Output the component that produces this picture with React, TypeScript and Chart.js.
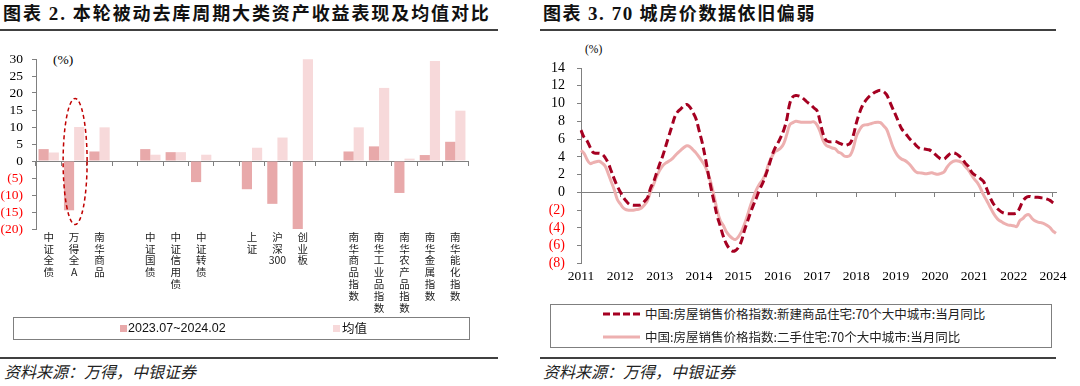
import React, { useEffect, useRef } from 'react';
import { Chart, registerables } from 'chart.js';

Chart.register(...registerables);

// ---------- Left chart data ----------
const assetNames = [
  '中证全债', '万得全A', '南华商品', '',
  '中证国债', '中证信用债', '中证转债', '',
  '上证', '沪深300', '创业板', '',
  '南华商品指数', '南华工业品指数', '南华农产品指数', '南华金属指数', '南华能化指数',
];
const cycleReturns = [3.5, -14.5, 2.8, null, 3.5, 2.6, -6.2, null, -8.3, -12.6, -20, null, 2.8, 4.3, -9.4, 1.75, 5.65];
const meanReturns = [2.5, 10.0, 9.9, null, 1.85, 2.6, 1.85, null, 3.9, 6.9, 29.9, null, 9.9, 21.5, 0.7, 29.4, 14.8];
const leftLegend = ['2023.07~2024.02', '均值'];
const highlightIndex = 1;
const highlightRange = [-18.7, 18.4];

// ---------- Right chart data (monthly, 2011-01 .. 2024-02) ----------
const newHomeYoY = [
  7.0, 6.2, 5.8, 5.1, 4.5, 4.4, 4.4, 4.3, 3.9, 3.3, 2.4, 1.5,
  0.7, 0.05, -0.55, -1.0, -1.35, -1.45, -1.45, -1.45, -1.35, -1.0, -0.6, 0.5,
  1.2, 2.2, 3.2, 4.1, 5.2, 6.3, 7.4, 8.5, 9.1, 9.4, 9.75, 9.9,
  9.6, 9.0, 8.3, 7.0, 5.7, 4.05, 2.2, 0.45, -1.1, -2.65, -3.75, -4.9,
  -5.75, -6.3, -6.6, -6.55, -6.2, -5.5, -4.3, -3.3, -2.3, -1.4, -0.6, 0.3,
  1.0, 1.9, 2.9, 4.0, 4.9, 5.5, 6.2, 7.0, 8.2, 10.0, 10.75, 10.9,
  10.85, 10.7, 10.4, 10.1, 9.85, 9.5, 9.2, 8.0, 6.6, 5.85, 5.7, 5.7,
  5.75, 5.6, 5.45, 5.3, 5.35, 5.55, 6.4, 7.8, 8.9, 9.75, 10.3, 10.7,
  11.0, 11.25, 11.4, 11.5, 11.35, 11.0, 10.25, 9.45, 8.7, 7.9, 7.15, 6.75,
  6.3, 5.9, 5.6, 5.2, 4.95, 4.9, 4.85, 4.8, 4.6, 4.3, 4.0, 3.75,
  3.75, 4.05, 4.35, 4.45, 4.35, 4.1, 3.8, 3.3, 2.95, 2.35, 2.0, 1.8,
  1.55, 1.25, 0.5, -0.4, -1.1, -1.6, -1.95, -2.2, -2.35, -2.4, -2.4, -2.4,
  -2.3, -1.75, -1.0, -0.6, -0.45, -0.5, -0.55, -0.55, -0.6, -0.65, -0.75, -0.9,
  -1.15, -1.35,
];
const secondHandYoY = [
  4.75, 4.4, 3.7, 3.25, 3.35, 3.45, 3.5, 3.3, 2.95, 2.1, 1.2, 0.3,
  -0.8, -1.3, -1.75, -1.95, -2.0, -2.0, -1.95, -1.9, -1.75, -1.4, -0.9, 0.1,
  0.9, 1.8, 2.5, 3.0, 3.3, 3.5, 3.75, 4.1, 4.45, 4.75, 5.05, 5.25,
  5.15, 4.8, 4.45, 4.0, 3.5, 2.95, 2.1, 1.0, -0.45, -2.0, -3.15, -3.7,
  -4.4, -4.85, -5.15, -5.3, -5.0, -4.45, -3.6, -2.6, -1.5, -0.55, 0.3, 0.95,
  1.4, 2.1, 3.2, 3.95, 4.55, 4.75, 5.0, 5.5, 6.5, 7.6, 7.85, 8.0,
  7.95, 7.9, 7.9, 7.9, 7.9, 7.95, 7.6, 6.85, 5.85, 5.3, 5.15, 5.0,
  4.9, 4.55, 4.4, 4.1, 4.05, 4.2, 5.0, 6.3, 7.0, 7.5, 7.6, 7.65,
  7.75, 7.85, 7.9, 7.85, 7.5, 7.1, 6.2, 5.2, 4.5, 4.0, 3.75, 3.6,
  3.35, 3.0, 2.55, 2.25, 2.2, 2.15, 2.1, 2.15, 2.2, 2.1, 2.05, 2.15,
  2.3, 2.85, 3.25, 3.5, 3.55, 3.5, 3.35, 2.9, 2.55, 2.0, 1.5, 1.1,
  0.5, -0.25, -0.85, -1.5, -2.15, -2.7, -3.1, -3.3, -3.5, -3.65, -3.7, -3.75,
  -3.85, -3.2, -2.95, -2.6, -2.5, -2.9, -3.2, -3.35, -3.4, -3.5, -3.7, -3.95,
  -4.35, -4.6,
];
const rightLegend = [
  '中国:房屋销售价格指数:新建商品住宅:70个大中城市:当月同比',
  '中国:房屋销售价格指数:二手住宅:70个大中城市:当月同比',
];
const startYear = 2011;
const monthLabels: string[] = newHomeYoY.map((_, i) => {
  const y = startYear + Math.floor(i / 12);
  const m = (i % 12) + 1;
  return `${y}-${m < 10 ? '0' + m : m}`;
});
const labelEvery = 13;

// ---------- styling ----------
const AXIS = '#808080';
const DARK_BAR = '#E8A9AA';
const LIGHT_BAR = '#F7D9DA';
const NEW_HOME = '#A50021';
const SECOND_HAND = '#EDB0B0';
const SERIF = '"Liberation Serif", "Times New Roman", serif';
const CJK = '"Noto Sans CJK SC", "Noto Sans", sans-serif';

const fmtNeg = (v: number | string) => {
  const n = Number(v);
  return n < 0 ? `(${Math.abs(n)})` : `${n}`;
};
const negColor = (ctx: any) => (ctx.tick && ctx.tick.value < 0 ? '#FF0000' : '#000000');
const vertical = (s: string) => (s ? s.match(/\d+|./g) || [''] : ['']);

const ellipsePlugin = {
  id: 'highlightEllipse',
  afterDatasetsDraw(chart: any) {
    const { ctx, scales } = chart;
    const x = scales.x, y = scales.y;
    const cx = x.getPixelForValue(highlightIndex) + 1;
    const top = y.getPixelForValue(highlightRange[1]);
    const bottom = y.getPixelForValue(highlightRange[0]);
    ctx.save();
    ctx.beginPath();
    ctx.setLineDash([4, 3]);
    ctx.strokeStyle = '#C00000';
    ctx.lineWidth = 1.5;
    ctx.ellipse(cx, (top + bottom) / 2, 12, (bottom - top) / 2, 0, 0, Math.PI * 2);
    ctx.stroke();
    ctx.restore();
  },
};

function LeftChart() {
  const ref = useRef<HTMLCanvasElement>(null);
  useEffect(() => {
    const chart = new Chart(ref.current as HTMLCanvasElement, {
      type: 'bar',
      data: {
        labels: assetNames,
        datasets: [
          { label: leftLegend[0], data: cycleReturns as any, backgroundColor: DARK_BAR, categoryPercentage: 0.8, barPercentage: 1.0 },
          { label: leftLegend[1], data: meanReturns as any, backgroundColor: LIGHT_BAR, categoryPercentage: 0.8, barPercentage: 1.0 },
        ],
      },
      options: {
        animation: false,
        responsive: false,
        maintainAspectRatio: false,
        layout: { padding: { top: 19, right: 62, bottom: 0, left: 0 } },
        plugins: { legend: { display: false }, tooltip: { enabled: false } },
        scales: {
          x: {
            type: 'category',
            position: { y: 0 } as any,
            offset: true,
            grid: { display: true, drawOnChartArea: false, offset: true, drawTicks: true, tickLength: 4, color: AXIS },
            border: { display: true, color: AXIS },
            ticks: { display: false },
            afterFit: (s: any) => { s.height = 0; },
          },
          x2: {
            type: 'category',
            labels: assetNames,
            position: 'bottom',
            offset: true,
            grid: { display: false, drawTicks: false },
            border: { display: false },
            ticks: {
              autoSkip: false,
              maxRotation: 0,
              minRotation: 0,
              padding: 2,
              color: '#222222',
              font: { family: CJK, size: 10.5, lineHeight: '11.8px' },
              callback: (_v: any, i: number) => vertical(assetNames[i]),
            },
            afterFit: (s: any) => { s.height = 89; },
          },
          y: {
            min: -20,
            max: 30,
            ticks: { stepSize: 5, autoSkip: false, callback: fmtNeg, color: negColor, padding: 9, font: { family: SERIF, size: 13.5 } },
            grid: { display: true, drawOnChartArea: false, tickLength: 4, color: AXIS },
            border: { display: true, color: AXIS },
            afterFit: (s: any) => { s.width = 36; },
          },
        },
      } as any,
      plugins: [ellipsePlugin],
    });
    return () => chart.destroy();
  }, []);
  return <canvas ref={ref} width={530} height={278} style={{ position: 'absolute', left: 0, top: 40 }} />;
}

function RightChart() {
  const ref = useRef<HTMLCanvasElement>(null);
  useEffect(() => {
    const keepYearTicks = (s: any) => { s.ticks = s.ticks.filter((t: any) => t.value % labelEvery === 0); };
    const chart = new Chart(ref.current as HTMLCanvasElement, {
      type: 'line',
      data: {
        labels: monthLabels,
        datasets: [
          { label: rightLegend[0], data: newHomeYoY, borderColor: NEW_HOME, borderWidth: 3, borderDash: [8, 4], pointRadius: 0, tension: 0.4, fill: false },
          { label: rightLegend[1], data: secondHandYoY, borderColor: SECOND_HAND, borderWidth: 3, pointRadius: 0, tension: 0.4, fill: false },
        ],
      },
      options: {
        animation: false,
        responsive: false,
        maintainAspectRatio: false,
        layout: { padding: { top: 28, right: 24, bottom: 0, left: 0 } },
        plugins: { legend: { display: false }, tooltip: { enabled: false } },
        scales: {
          x: {
            type: 'category',
            position: { y: 0 } as any,
            offset: false,
            grid: { display: true, drawOnChartArea: false, drawTicks: true, tickLength: 4, color: AXIS },
            border: { display: true, color: AXIS },
            ticks: { display: false, autoSkip: false },
            afterBuildTicks: keepYearTicks,
            afterFit: (s: any) => { s.height = 0; },
          },
          x2: {
            type: 'category',
            position: 'bottom',
            offset: false,
            grid: { display: false, drawTicks: false },
            border: { display: false },
            ticks: {
              autoSkip: false,
              maxRotation: 0,
              minRotation: 0,
              padding: 5,
              color: '#000000',
              font: { family: SERIF, size: 13.5 },
              callback: function (this: any, v: any) { return String(this.getLabelForValue(v)).slice(0, 4); },
            },
            afterBuildTicks: keepYearTicks,
            afterFit: (s: any) => { s.height = 36.5; },
          },
          y: {
            min: -8,
            max: 14,
            ticks: { stepSize: 2, autoSkip: false, callback: fmtNeg, color: negColor, padding: 12, font: { family: SERIF, size: 14 } },
            grid: { display: true, drawOnChartArea: false, tickLength: 4, color: AXIS },
            border: { display: true, color: AXIS },
            afterFit: (s: any) => { s.width = 41; },
          },
        },
      } as any,
    });
    return () => chart.destroy();
  }, []);
  return <canvas ref={ref} width={540} height={260} style={{ position: 'absolute', left: 540, top: 40 }} />;
}

const abs = (s: React.CSSProperties): React.CSSProperties => ({ position: 'absolute', margin: 0, whiteSpace: 'nowrap', ...s });

export default function App() {
  const titleStyle: React.CSSProperties = { fontFamily: CJK, fontWeight: 700, fontSize: 18, lineHeight: '22px', color: '#111' };
  const numStyle: React.CSSProperties = { fontFamily: SERIF, fontWeight: 700, fontSize: 19 };
  const sourceStyle: React.CSSProperties = { fontFamily: CJK, fontStyle: 'italic', fontSize: 16, lineHeight: '20px', color: '#222' };
  return (
    <div style={{ position: 'absolute', left: 0, top: 0, width: 1080, height: 386, background: '#fff', overflow: 'hidden' }}>
      {/* Titles */}
      <div style={abs({ left: 3, top: 1, letterSpacing: '1.9px', ...titleStyle })}>
        图表 <span style={numStyle}>2.</span> 本轮被动去库周期大类资产收益表现及均值对比
      </div>
      <div style={abs({ left: 0, top: 29, width: 498, height: 2, background: '#404040' })} />
      <div style={abs({ left: 543, top: 1, letterSpacing: '1.6px', ...titleStyle })}>
        图表 <span style={numStyle}>3. 70</span> 城房价数据依旧偏弱
      </div>
      <div style={abs({ left: 540, top: 29, width: 516, height: 2, background: '#404040' })} />

      {/* Unit labels */}
      <div style={abs({ left: 53, top: 52, fontFamily: SERIF, fontSize: 13.5, lineHeight: '16px', color: '#000' })}>(%)</div>
      <div style={abs({ left: 585, top: 42, fontFamily: SERIF, fontSize: 11.5, lineHeight: '14px', color: '#000' })}>(%)</div>

      <LeftChart />
      <RightChart />

      {/* Left legend */}
      <div style={abs({ left: 13, top: 317, width: 457, height: 23, boxSizing: 'border-box', border: '1px solid #7f7f7f' })} />
      <div style={abs({ left: 120, top: 325, width: 7, height: 7, background: DARK_BAR })} />
      <div style={abs({ left: 128, top: 320, fontFamily: '"Liberation Sans", Arial, sans-serif', fontSize: 12.5, lineHeight: '16px', color: '#111' })}>{leftLegend[0]}</div>
      <div style={abs({ left: 333, top: 325, width: 7, height: 7, background: LIGHT_BAR })} />
      <div style={abs({ left: 342, top: 320, fontFamily: CJK, fontSize: 12.5, lineHeight: '16px', color: '#111' })}>{leftLegend[1]}</div>

      {/* Right legend */}
      <div style={abs({ left: 550, top: 304, width: 502, height: 44, boxSizing: 'border-box', border: '1px solid #7f7f7f' })} />
      <svg style={abs({ left: 600, top: 304, width: 45, height: 44 })} width={45} height={44}>
        <line x1={3} y1={10} x2={40} y2={10} stroke={NEW_HOME} strokeWidth={3} strokeDasharray="7 3" />
        <line x1={3} y1={33} x2={40} y2={33} stroke={SECOND_HAND} strokeWidth={3} />
      </svg>
      <div style={abs({ left: 645, top: 306, fontFamily: CJK, fontSize: 12.5, lineHeight: '16px', color: '#222' })}>{rightLegend[0]}</div>
      <div style={abs({ left: 645, top: 329, fontFamily: CJK, fontSize: 12.5, lineHeight: '16px', color: '#222' })}>{rightLegend[1]}</div>

      {/* Footers */}
      <div style={abs({ left: 0, top: 357, width: 498, height: 2, background: '#404040' })} />
      <div style={abs({ left: 540, top: 357, width: 516, height: 2, background: '#404040' })} />
      <div style={abs({ left: 4, top: 361, ...sourceStyle })}>资料来源：万得，中银证券</div>
      <div style={abs({ left: 543, top: 361, ...sourceStyle })}>资料来源：万得，中银证券</div>
    </div>
  );
}
